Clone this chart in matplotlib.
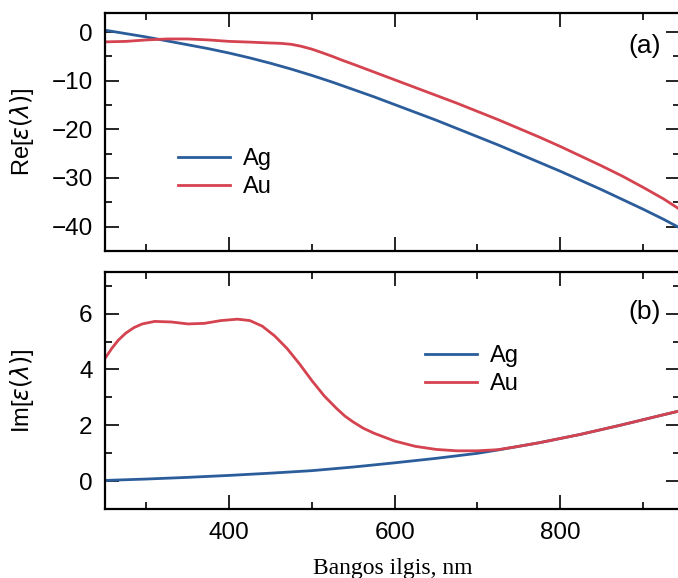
import matplotlib
matplotlib.use("Agg")
import matplotlib.pyplot as plt
from matplotlib.ticker import MultipleLocator

plt.rcParams['font.family'] = ['Liberation Sans', 'DejaVu Sans']
plt.rcParams['mathtext.fontset'] = 'dejavusans'

# real part of permittivity
wl_re_ag = [250, 275, 300, 325, 350, 375, 400, 425, 450, 475, 500, 525, 550, 575,
            600, 625, 650, 675, 700, 725, 750, 775, 800, 825, 850, 875, 900, 925, 945]
re_ag = [0.4, -0.3, -1.0, -1.8, -2.6, -3.4, -4.3, -5.3, -6.4, -7.6, -8.9, -10.3, -11.8, -13.3,
         -14.9, -16.5, -18.1, -19.8, -21.5, -23.2, -25.0, -26.8, -28.6, -30.5, -32.4, -34.4,
         -36.4, -38.5, -40.3]
wl_re_au = [250, 275, 300, 325, 350, 375, 400, 425, 445, 462, 475, 487, 500, 512, 525, 537,
            550, 575, 600, 625, 650, 675, 700, 725, 750, 775, 800, 825, 850, 875, 900, 925, 945]
re_au = [-2.0, -1.9, -1.6, -1.4, -1.4, -1.6, -1.9, -2.05, -2.2, -2.3, -2.5, -2.9, -3.5, -4.2,
         -5.0, -5.8, -6.6, -8.2, -9.8, -11.4, -13.0, -14.6, -16.3, -18.0, -19.8, -21.6, -23.5,
         -25.5, -27.5, -29.6, -31.9, -34.3, -36.5]

# imaginary part
wl_im_au = [250, 258, 266, 275, 285, 295, 310, 330, 350, 370, 390, 410, 425, 440, 455, 470,
            485, 500, 515, 530, 540, 550, 562, 575, 600, 625, 650, 675, 700, 725, 750, 775,
            800, 825, 850, 875, 900, 925, 945]
im_au = [4.4, 4.75, 5.05, 5.3, 5.5, 5.63, 5.72, 5.7, 5.63, 5.65, 5.75, 5.8, 5.75, 5.55, 5.2, 4.75,
         4.2, 3.6, 3.05, 2.6, 2.33, 2.12, 1.9, 1.72, 1.44, 1.25, 1.14, 1.09, 1.09, 1.13, 1.25, 1.38,
         1.53, 1.68, 1.85, 2.02, 2.2, 2.38, 2.52]
wl_im_ag = [250, 300, 350, 400, 450, 500, 550, 600, 650, 700, 725, 750, 775, 800,
            825, 850, 875, 900, 925, 945]
im_ag = [0.03, 0.08, 0.14, 0.21, 0.29, 0.38, 0.51, 0.66, 0.82, 1.0, 1.12, 1.25, 1.38,
         1.53, 1.68, 1.85, 2.02, 2.2, 2.38, 2.52]

blue = '#2c5d9b'
red = '#d4434f'

fig = plt.figure(figsize=(6.78, 5.78), dpi=100)
ax1 = fig.add_axes([0.155, 0.566, 0.848, 0.412])
ax2 = fig.add_axes([0.155, 0.119, 0.848, 0.411])

ax1.plot(wl_re_ag, re_ag, color=blue, lw=2, label='Ag')
ax1.plot(wl_re_au, re_au, color=red, lw=2, label='Au')
ax2.plot(wl_im_ag, im_ag, color=blue, lw=2, label='Ag')
ax2.plot(wl_im_au, im_au, color=red, lw=2, label='Au')

ax1.set_ylim(-45, 4)
ax2.set_ylim(-1, 7.5)
ax1.yaxis.set_major_locator(MultipleLocator(10))
ax1.yaxis.set_minor_locator(MultipleLocator(5))
ax2.yaxis.set_major_locator(MultipleLocator(2))
ax2.yaxis.set_minor_locator(MultipleLocator(1))

for ax in (ax1, ax2):
    ax.set_xlim(250, 945)
    ax.xaxis.set_major_locator(MultipleLocator(200))
    ax.xaxis.set_minor_locator(MultipleLocator(100))
    ax.tick_params(which='both', direction='in', top=True, right=True, width=1.2)
    ax.tick_params(which='major', length=10, labelsize=17.5, pad=9)
    ax.tick_params(which='minor', length=5)
    for s in ax.spines.values():
        s.set_linewidth(1.6)
    ax.yaxis.set_label_coords(-0.12, 0.5)

ax1.tick_params(labelbottom=False)

ax1.set_ylabel(r'Re[$\varepsilon(\lambda)$]', fontsize=17)
ax2.set_ylabel(r'Im[$\varepsilon(\lambda)$]', fontsize=17)
ax2.set_xlabel('Bangos ilgis, nm', fontsize=17, family=['Liberation Serif'], labelpad=10)

ax1.text(0.967, 0.86, '(a)', transform=ax1.transAxes, fontsize=19, ha='right', va='center')
ax2.text(0.967, 0.83, '(b)', transform=ax2.transAxes, fontsize=19, ha='right', va='center')

ax1.legend(loc='upper left', bbox_to_anchor=(0.09, 0.52), frameon=False, fontsize=17,
           handlelength=2.2, handletextpad=0.55, labelspacing=0.25)
ax2.legend(loc='upper left', bbox_to_anchor=(0.52, 0.78), frameon=False, fontsize=17,
           handlelength=2.2, handletextpad=0.55, labelspacing=0.25)

fig.savefig('out.png', dpi=100)
